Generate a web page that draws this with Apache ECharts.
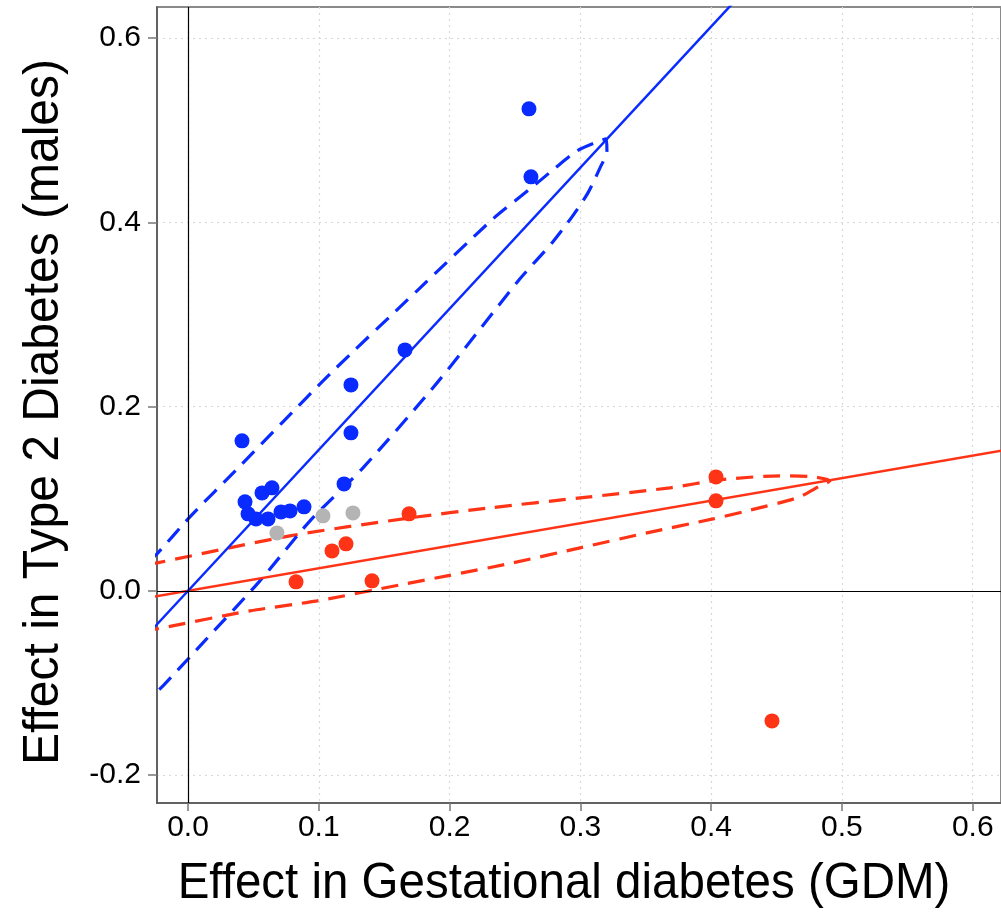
<!DOCTYPE html>
<html>
<head>
<meta charset="utf-8">
<script src="https://cdn.jsdelivr.net/npm/echarts@6/dist/echarts.min.js"></script>
<style>
html,body{margin:0;padding:0;background:#fff;}
#chart{width:1001px;height:913px;}
</style>
</head>
<body>
<div id="chart"></div>
<script>
// ---- data ----
var xTicks = [0.0, 0.1, 0.2, 0.3, 0.4, 0.5, 0.6];
var yTicks = [-0.2, 0.0, 0.2, 0.4, 0.6];

var bluePoints = [
  [0.2607, 0.5231], [0.2622, 0.4493], [0.1659, 0.2615], [0.1246, 0.2235],
  [0.1246, 0.1715], [0.0413, 0.1628], [0.1193, 0.1161], [0.0436, 0.0966],
  [0.0566, 0.1063], [0.0642, 0.1118], [0.0459, 0.0836], [0.0520, 0.0781],
  [0.0612, 0.0781], [0.0711, 0.0857], [0.0780, 0.0868], [0.0887, 0.0912]
];
var grayPoints = [
  [0.0680, 0.0629], [0.1032, 0.0814], [0.1261, 0.0846]
];
var redPoints = [
  [0.1690, 0.0836], [0.1208, 0.0510], [0.1101, 0.0434], [0.0826, 0.0098],
  [0.1407, 0.0109], [0.4037, 0.1237], [0.4037, 0.0977], [0.4465, -0.1411]
];

// fitted lines (end points)
var blueFit = [[-0.03, -0.046], [0.42, 0.643]];
var redFit = [[-0.03, -0.0073], [0.63, 0.154]];

// dashed contours
var blueContour = [
  [-0.0300, 0.0330], [-0.0237, 0.0402], [0.0015, 0.0803], [0.0398, 0.1356],
  [0.0726, 0.1834], [0.1086, 0.2355], [0.1751, 0.3256], [0.2332, 0.4037],
  [0.2615, 0.4362], [0.2791, 0.4569], [0.2974, 0.4775], [0.3127, 0.4872],
  [0.3196, 0.4905], [0.3203, 0.4775], [0.3150, 0.4590], [0.3058, 0.4319],
  [0.2936, 0.4059], [0.2783, 0.3776], [0.2538, 0.3386], [0.1904, 0.2257],
  [0.1338, 0.1335], [0.0933, 0.0760], [0.0550, 0.0109], [0.0107, -0.0575],
  [-0.0191, -0.1031], [-0.0300, -0.1180]
];
var redContour = [
  [-0.0300, 0.0295], [-0.0237, 0.0304], [0.0780, 0.0597], [0.1697, 0.0792],
  [0.2309, 0.0901], [0.2997, 0.1009], [0.3685, 0.1118], [0.4067, 0.1205],
  [0.4526, 0.1248], [0.4778, 0.1237], [0.4908, 0.1194], [0.4832, 0.1139],
  [0.4656, 0.1009], [0.4274, 0.0868], [0.4014, 0.0781], [0.3509, 0.0629],
  [0.2997, 0.0467], [0.2485, 0.0304], [0.1980, 0.0163], [0.1621, 0.0065],
  [0.0986, -0.0109], [0.0474, -0.0217], [-0.0237, -0.0412], [-0.0300, -0.0425]
];

var xTitle = 'Effect in Gestational diabetes (GDM)';
var yTitle = 'Effect in Type 2 Diabetes (males)';

// ---- styles ----
var BLUE = '#0a2bff';
var RED = '#ff3316';
var GRAY = '#b4b4b4';
var FONT = "'Liberation Sans', Arial, sans-serif";

var chart = echarts.init(document.getElementById('chart'), null, {renderer: 'canvas'});

var option = {
  animation: false,
  backgroundColor: '#ffffff',
  grid: {
    left: 157, top: 7, right: 0, bottom: 110,
    show: true, borderColor: '#8a8a8a', borderWidth: 2, containLabel: false
  },
  xAxis: {
    type: 'value',
    min: -0.0237, max: 0.6216,
    axisLine: {show: true, onZero: false, lineStyle: {color: '#555', width: 1.5}},
    axisTick: {show: true, length: 8, customValues: xTicks, lineStyle: {color: '#777', width: 1.5}},
    axisLabel: {
      show: true, customValues: xTicks, margin: 10,
      fontFamily: FONT, fontSize: 30, color: '#000',
      formatter: function (v) { return v.toFixed(1); }
    },
    splitLine: {show: true, lineStyle: {type: [2, 4], color: '#d8d8d8', width: 1.2}}
  },
  yAxis: {
    type: 'value',
    min: -0.2302, max: 0.6336,
    axisLine: {show: true, onZero: false, lineStyle: {color: '#555', width: 1.5}},
    axisTick: {show: true, length: 9, customValues: yTicks, lineStyle: {color: '#777', width: 1.5}},
    axisLabel: {
      show: true, customValues: yTicks, margin: 16,
      fontFamily: FONT, fontSize: 30, color: '#000',
      formatter: function (v) { return v.toFixed(1); }
    },
    splitLine: {show: true, lineStyle: {type: [2, 4], color: '#d8d8d8', width: 1.2}}
  },
  graphic: [
    {
      type: 'text', x: 564, y: 884, scaleX: 0.95, silent: true,
      style: {text: xTitle, font: "50px 'Liberation Sans', Arial, sans-serif",
              fill: '#000', textAlign: 'center', textVerticalAlign: 'middle'}
    },
    {
      type: 'text', x: 44, y: 412, rotation: Math.PI / 2, scaleX: 0.96, silent: true,
      style: {text: yTitle, font: "50px 'Liberation Sans', Arial, sans-serif",
              fill: '#000', textAlign: 'center', textVerticalAlign: 'middle'}
    }
  ],
  series: [
    {
      type: 'line', data: [], silent: true,
      markLine: {
        silent: true, symbol: 'none', label: {show: false},
        lineStyle: {color: '#000', width: 1.2, type: 'solid'},
        data: [{xAxis: 0}, {yAxis: 0}]
      }
    },
    {
      type: 'line', data: redContour, showSymbol: false, smooth: 0.25, clip: true,
      lineStyle: {color: RED, width: 3.2, type: [17, 10]}, z: 3
    },
    {
      type: 'line', data: blueContour, showSymbol: false, smooth: 0.25, clip: true,
      lineStyle: {color: BLUE, width: 3.2, type: [17, 10]}, z: 3
    },
    {
      type: 'line', data: redFit, showSymbol: false, clip: true,
      lineStyle: {color: RED, width: 2.5}, z: 4
    },
    {
      type: 'line', data: blueFit, showSymbol: false, clip: true,
      lineStyle: {color: BLUE, width: 2.5}, z: 4
    },
    {
      type: 'scatter', data: grayPoints, symbolSize: 15,
      itemStyle: {color: GRAY, opacity: 1}, z: 5
    },
    {
      type: 'scatter', data: redPoints, symbolSize: 15,
      itemStyle: {color: RED, opacity: 1}, z: 5
    },
    {
      type: 'scatter', data: bluePoints, symbolSize: 15,
      itemStyle: {color: BLUE, opacity: 1}, z: 5
    }
  ]
};
chart.setOption(option);
</script>
</body>
</html>
